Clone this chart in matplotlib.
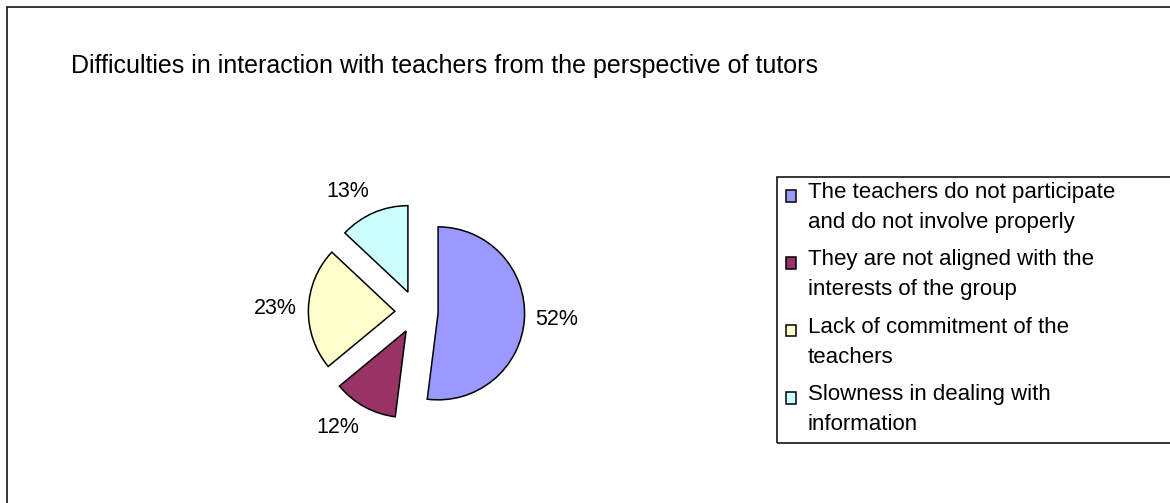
import math
import matplotlib
matplotlib.use('Agg')
import matplotlib.pyplot as plt
from matplotlib.patches import Rectangle
from matplotlib.legend_handler import HandlerPatch

plt.rcParams['font.family'] = ['Liberation Sans', 'DejaVu Sans']

title = "Difficulties in interaction with teachers from the perspective of tutors"
categories = [
    "The teachers do not participate\nand do not involve properly",
    "They are not aligned with the\ninterests of the group",
    "Lack of commitment of the\nteachers",
    "Slowness in dealing with\ninformation",
]
values = [52, 12, 23, 13]
colors = ['#9999FF', '#993366', '#FFFFCC', '#CCFFFF']

W, H = 1170, 503
fig = plt.figure(figsize=(W / 100, H / 100), dpi=100)


def fx(px):
    return px / W


def fy(py):
    return 1 - py / H


FS_TITLE = 18
FS_PCT = 15.5
FS_LEG = 16

# outer chart-area frame (cut off on right and bottom)
fig.patches.append(Rectangle((fx(7), -0.5), 2, fy(7) + 0.5, transform=fig.transFigure,
                             fill=False, edgecolor='black', lw=1.1))

fig.text(fx(71), fy(73), title, fontsize=FS_TITLE, va='baseline', ha='left')

# pie
r_px = 86.5
cx, cy = 416.5, 312
half = 2 * r_px
ax = fig.add_axes([fx(cx - half), fy(cy + half), 2 * half / W, 2 * half / H])
wedges, texts, autotexts = ax.pie(
    values, colors=colors, startangle=90, counterclock=False,
    explode=[0.25] * len(values), autopct='%1.0f%%', pctdistance=1.13,
    wedgeprops=dict(edgecolor='black', linewidth=1.1),
    textprops=dict(fontsize=FS_PCT, color='black'))
# anchor each percentage label on its outer side, like the original
for w, t in zip(wedges, autotexts):
    mid = math.radians((w.theta1 + w.theta2) / 2)
    c, s = math.cos(mid), math.sin(mid)
    t.set_ha('left' if c > 0.2 else ('right' if c < -0.2 else 'center'))
    t.set_va('center' if abs(s) < 0.5 else ('bottom' if s > 0 else 'top'))
ax.set_xlim(-2, 2)
ax.set_ylim(-2, 2)
ax.set_aspect('equal')
ax.axis('off')

# legend box (cut off on right)
fig.patches.append(Rectangle((fx(777), fy(443)), 1, fy(177) - fy(443), transform=fig.transFigure,
                             fill=False, edgecolor='black', lw=1.1))

SHIFT = 8.6


def square(legend, orig_handle, xdescent, ydescent, width, height, fontsize):
    return Rectangle((-xdescent, -ydescent + SHIFT), width, height)


handles = [Rectangle((0, 0), 1, 1, facecolor=c, edgecolor='black', lw=1.1) for c in colors]
leg = fig.legend(handles, categories, loc='upper left', bbox_to_anchor=(fx(786), fy(182)),
                 frameon=False, borderpad=0, borderaxespad=0, handlelength=0.45,
                 handleheight=0.45, handletextpad=0.54, labelspacing=0.75, fontsize=FS_LEG,
                 handler_map={Rectangle: HandlerPatch(patch_func=square)})
for t in leg.get_texts():
    t.set_linespacing(1.55)

fig.savefig('out.png', dpi=100)
